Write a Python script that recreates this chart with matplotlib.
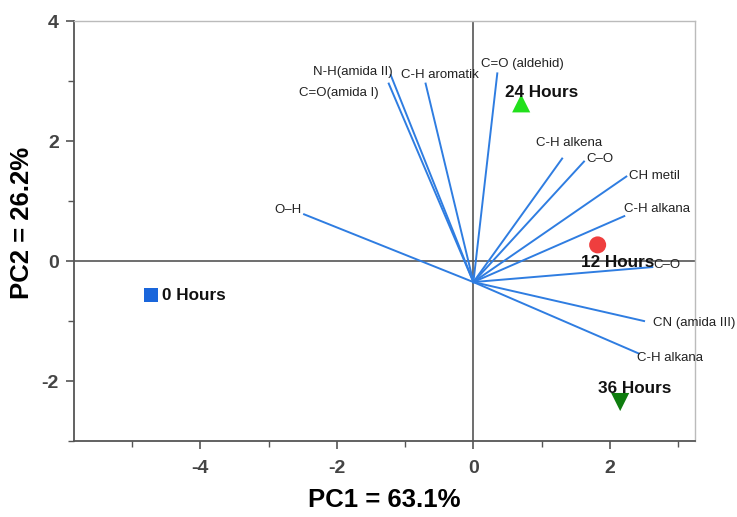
import matplotlib
matplotlib.use("Agg")
import matplotlib.pyplot as plt
from matplotlib.ticker import MultipleLocator

plt.rcParams['font.family'] = ['Liberation Sans', 'DejaVu Sans']
plt.rcParams['axes.unicode_minus'] = False

# Loadings (vector tips); vectors start from a common origin
origin = (0.0, -0.35)
var_names = ["O–H", "C=O(amida I)", "N-H(amida II)", "C-H aromatik", "C=O (aldehid)",
             "C-H alkena", "C–O", "CH metil", "C-H alkana", "C–O", "CN (amida III)", "C-H alkana"]
var_x = [-2.48, -1.24, -1.21, -0.70, 0.35, 1.30, 1.62, 2.24, 2.21, 2.62, 2.50, 2.42]
var_y = [0.78, 2.96, 3.10, 2.96, 3.13, 1.71, 1.66, 1.41, 0.75, -0.10, -1.00, -1.54]

# Scores
sample_names = ["0 Hours", "12 Hours", "24 Hours", "36 Hours"]
sample_x = [-4.72, 1.82, 0.70, 2.15]
sample_y = [-0.57, 0.27, 2.63, -2.35]

fig = plt.figure(figsize=(7.37, 5.17), dpi=100)
ax = fig.add_axes([0.1004, 0.147, 0.843, 0.812])
ax.set_xlim(-5.85, 3.25)
ax.set_ylim(-3, 4)

ax.axhline(0, color='#555555', lw=1.2, zorder=1)
ax.axvline(0, color='#555555', lw=1.2, zorder=1)

vec_color = '#2f7de1'
# label placement (offsets in points, alignment)
lab_style = {
    0: (-1.5, 3, 'right'),
    1: (-7, -6.5, 'right'),
    2: (1, 2, 'right'),
    3: (-18, 6, 'left'),
    4: (-12, 7, 'left'),
    5: (-18.5, 11, 'left'),
    6: (2, 2, 'left'),
    7: (2, 0.5, 'left'),
    8: (0, 5, 'left'),
    9: (1, 1.5, 'left'),
    10: (6.5, -1.5, 'left'),
    11: (-1, -3.5, 'left'),
}
for i, (n, x, y) in enumerate(zip(var_names, var_x, var_y)):
    ax.plot([origin[0], x], [origin[1], y], color=vec_color, lw=1.4, zorder=2)
    dx, dy, ha = lab_style[i]
    ax.annotate(n, (x, y), xytext=(dx, dy), textcoords='offset points',
                ha=ha, va='center', fontsize=9.5, color='#222222', zorder=4,
                annotation_clip=False)

markers = ['s', 'o', '^', 'v']
colors = ['#1a66db', '#ef3e3e', '#22e01c', '#0f7d0f']
sizes = [100, 150, 170, 170]
sample_lab = {
    0: (8, 0),
    1: (-12, -13),
    2: (-11.5, 8),
    3: (-16, 10),
}
for i, (n, x, y) in enumerate(zip(sample_names, sample_x, sample_y)):
    ax.scatter([x], [y], marker=markers[i], s=sizes[i], color=colors[i],
               edgecolors='none', zorder=3)
    dx, dy = sample_lab[i]
    ax.annotate(n, (x, y), xytext=(dx, dy), textcoords='offset points',
                ha='left', va='center', fontsize=12.3, fontweight='bold',
                color='#111111', zorder=5)

for s in ['left', 'bottom']:
    ax.spines[s].set_color('#555555')
    ax.spines[s].set_linewidth(1.3)
for s in ['top', 'right']:
    ax.spines[s].set_color('#bbbbbb')
    ax.spines[s].set_linewidth(1.0)

ax.xaxis.set_major_locator(MultipleLocator(2))
ax.xaxis.set_minor_locator(MultipleLocator(1))
ax.yaxis.set_major_locator(MultipleLocator(2))
ax.yaxis.set_minor_locator(MultipleLocator(1))
ax.tick_params(which='major', direction='out', length=6, width=1.2, color='#555555',
               labelsize=14, labelcolor='#444444')
ax.tick_params(axis='x', which='major', pad=8)
ax.tick_params(axis='y', which='major', pad=5)
ax.tick_params(which='minor', direction='out', length=4, width=1.0, color='#555555')
for lbl in ax.get_xticklabels() + ax.get_yticklabels():
    lbl.set_fontweight('bold')

ax.set_xlabel("PC1 = 63.1%", fontsize=18.5, fontweight='bold', va='center')
ax.set_ylabel("PC2 = 26.2%", fontsize=18.5, fontweight='bold', va='center')
ax.xaxis.set_label_coords(0.5, -0.14)
ax.yaxis.set_label_coords(-0.084, 0.52)

fig.savefig("out.png", dpi=100)
